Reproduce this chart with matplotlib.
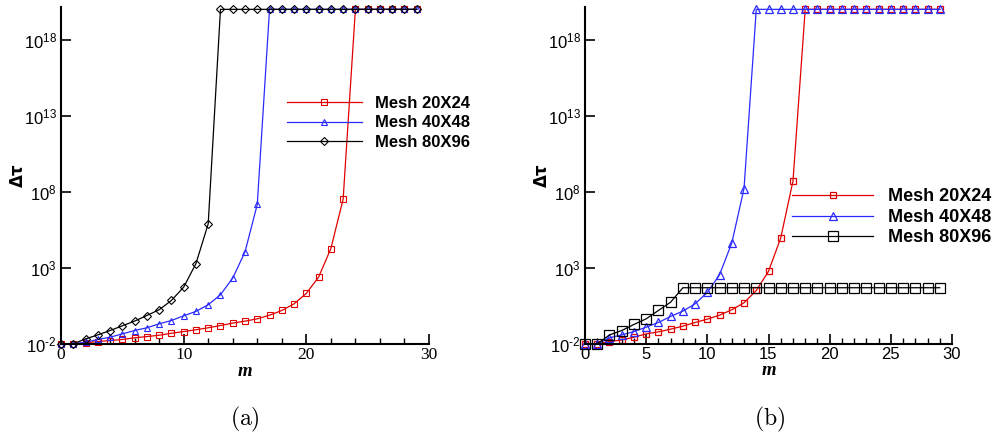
import numpy as np
import matplotlib
matplotlib.use('Agg')
import matplotlib.pyplot as plt
from matplotlib.ticker import FixedLocator, MultipleLocator, FuncFormatter

plt.rcParams['mathtext.fontset'] = 'cm'

# iteration index
m = np.arange(0, 30)
TOP = 20.05  # log10 of the saturated value

# (a) log10(dtau)
a_20x24 = [-2, -2, -1.93, -1.85, -1.78, -1.71, -1.6, -1.52, -1.43, -1.3,
           -1.19, -1.07, -0.94, -0.79, -0.63, -0.5, -0.35, -0.11, 0.2, 0.64,
           1.33, 2.4, 4.28, 7.54] + [TOP] * 6
a_40x48 = [-2, -2, -1.89, -1.71, -1.56, -1.34, -1.12, -0.94, -0.68, -0.46,
           -0.15, 0.14, 0.58, 1.24, 2.34, 4.06, 7.19] + [TOP] * 13
a_80x96 = [-2, -2, -1.67, -1.41, -1.12, -0.81, -0.5, -0.13, 0.25, 0.86,
           1.74, 3.29, 5.91] + [TOP] * 17

# (b) log10(dtau)
b_20x24 = [-2, -2, -1.85, -1.74, -1.56, -1.34, -1.21, -1.03, -0.83, -0.59,
           -0.37, -0.11, 0.25, 0.71, 1.52, 2.78, 4.98, 8.73] + [TOP] * 12
b_40x48 = [-2, -2, -1.6, -1.41, -1.19, -0.9, -0.59, -0.19, 0.16, 0.64,
           1.39, 2.56, 4.65, 8.24] + [TOP] * 16
b_80x96 = [-2, -2, -1.41, -1.12, -0.72, -0.35, 0.2, 0.75] + [1.70] * 22

labels = ['Mesh 20X24', 'Mesh 40X48', 'Mesh 80X96']
yticks = [-2, 3, 8, 13, 18]

RED = '#e00000'
BLUE = '#2a2aff'


def exp_label(v, p):
    k = round(np.log10(v))
    s = str(abs(k)) if k >= 0 else '\u2010' + str(abs(k))
    return r'$\mathregular{10^{%s}}$' % s


def style_axes(ax, xfamily, xsize, xmajor, xminor):
    ax.set_yscale('log')
    ax.set_xlim(0, 30)
    ax.set_ylim(1e-2, 10 ** 20.2)
    for s in ['top', 'right']:
        ax.spines[s].set_visible(False)
    for s in ['left', 'bottom']:
        ax.spines[s].set_linewidth(1.5)
    ax.xaxis.set_major_locator(MultipleLocator(xmajor))
    ax.xaxis.set_minor_locator(MultipleLocator(xminor))
    ax.yaxis.set_major_locator(FixedLocator([10.0 ** k for k in yticks]))
    ax.yaxis.set_minor_locator(FixedLocator([]))
    ax.yaxis.set_major_formatter(FuncFormatter(exp_label))
    ax.tick_params(which='major', direction='in', length=7, width=1.2, pad=3)
    ax.tick_params(which='minor', direction='in', length=4, width=1.0)
    ax.tick_params(axis='y', labelsize=12)
    ax.tick_params(axis='x', labelsize=xsize, pad=2)
    for lab in ax.get_xticklabels():
        lab.set_family(xfamily)
    for lab in ax.get_yticklabels():
        lab.set_family('Liberation Sans')
    ax.set_xlabel('m', fontsize=13.5, fontweight='bold', style='italic',
                  family='Liberation Serif', labelpad=0)
    ax.set_ylabel('Δτ', fontsize=12, fontweight='bold', family='DejaVu Sans')
    ax.yaxis.set_label_coords(-0.092, 0.5)


fig = plt.figure(figsize=(10, 4.42), dpi=100)
ax1 = fig.add_axes([0.061, 0.222, 0.368, 0.762])
ax2 = fig.add_axes([0.585, 0.222, 0.367, 0.762])

kw = dict(lw=0.9, mfc='none', clip_on=False)
ax1.plot(m, 10.0 ** np.array(a_20x24), color=RED, marker='s', ms=4, mew=0.8,
         label=labels[0], **kw)
ax1.plot(m, 10.0 ** np.array(a_40x48), color=BLUE, marker='^', ms=4.5, mew=0.8,
         label=labels[1], **kw)
ax1.plot(m, 10.0 ** np.array(a_80x96), color='black', marker='D', ms=4, mew=0.8,
         label=labels[2], **kw)
style_axes(ax1, 'Liberation Serif', 12.5, 10, 2)
ax1.legend(loc='upper left', bbox_to_anchor=(0.614, 0.735), frameon=False,
           borderpad=0, borderaxespad=0, handlelength=4.5, handletextpad=0.8,
           labelspacing=0.25, prop={'family': 'Liberation Sans',
                                     'weight': 'bold', 'size': 12})

ax2.plot(m, 10.0 ** np.array(b_20x24), color=RED, marker='s', ms=5, mew=0.9,
         label=labels[0], **kw)
ax2.plot(m, 10.0 ** np.array(b_40x48), color=BLUE, marker='^', ms=6, mew=0.9,
         label=labels[1], **kw)
ax2.plot(m, 10.0 ** np.array(b_80x96), color='black', marker='s', ms=6.5,
         mew=0.9, label=labels[2], **kw)
style_axes(ax2, 'Liberation Sans', 12, 5, 1)
ax2.legend(loc='upper left', bbox_to_anchor=(0.564, 0.462), frameon=False,
           borderpad=0, borderaxespad=0, handlelength=4.5, handletextpad=0.8,
           labelspacing=0.2, prop={'family': 'Liberation Sans',
                                    'weight': 'bold', 'size': 13})

fig.text(0.245, 0.05, r'$\mathrm{(a)}$', fontsize=17, ha='center', va='center')
fig.text(0.770, 0.05, r'$\mathrm{(b)}$', fontsize=17, ha='center', va='center')

fig.savefig('out.png', dpi=100)
